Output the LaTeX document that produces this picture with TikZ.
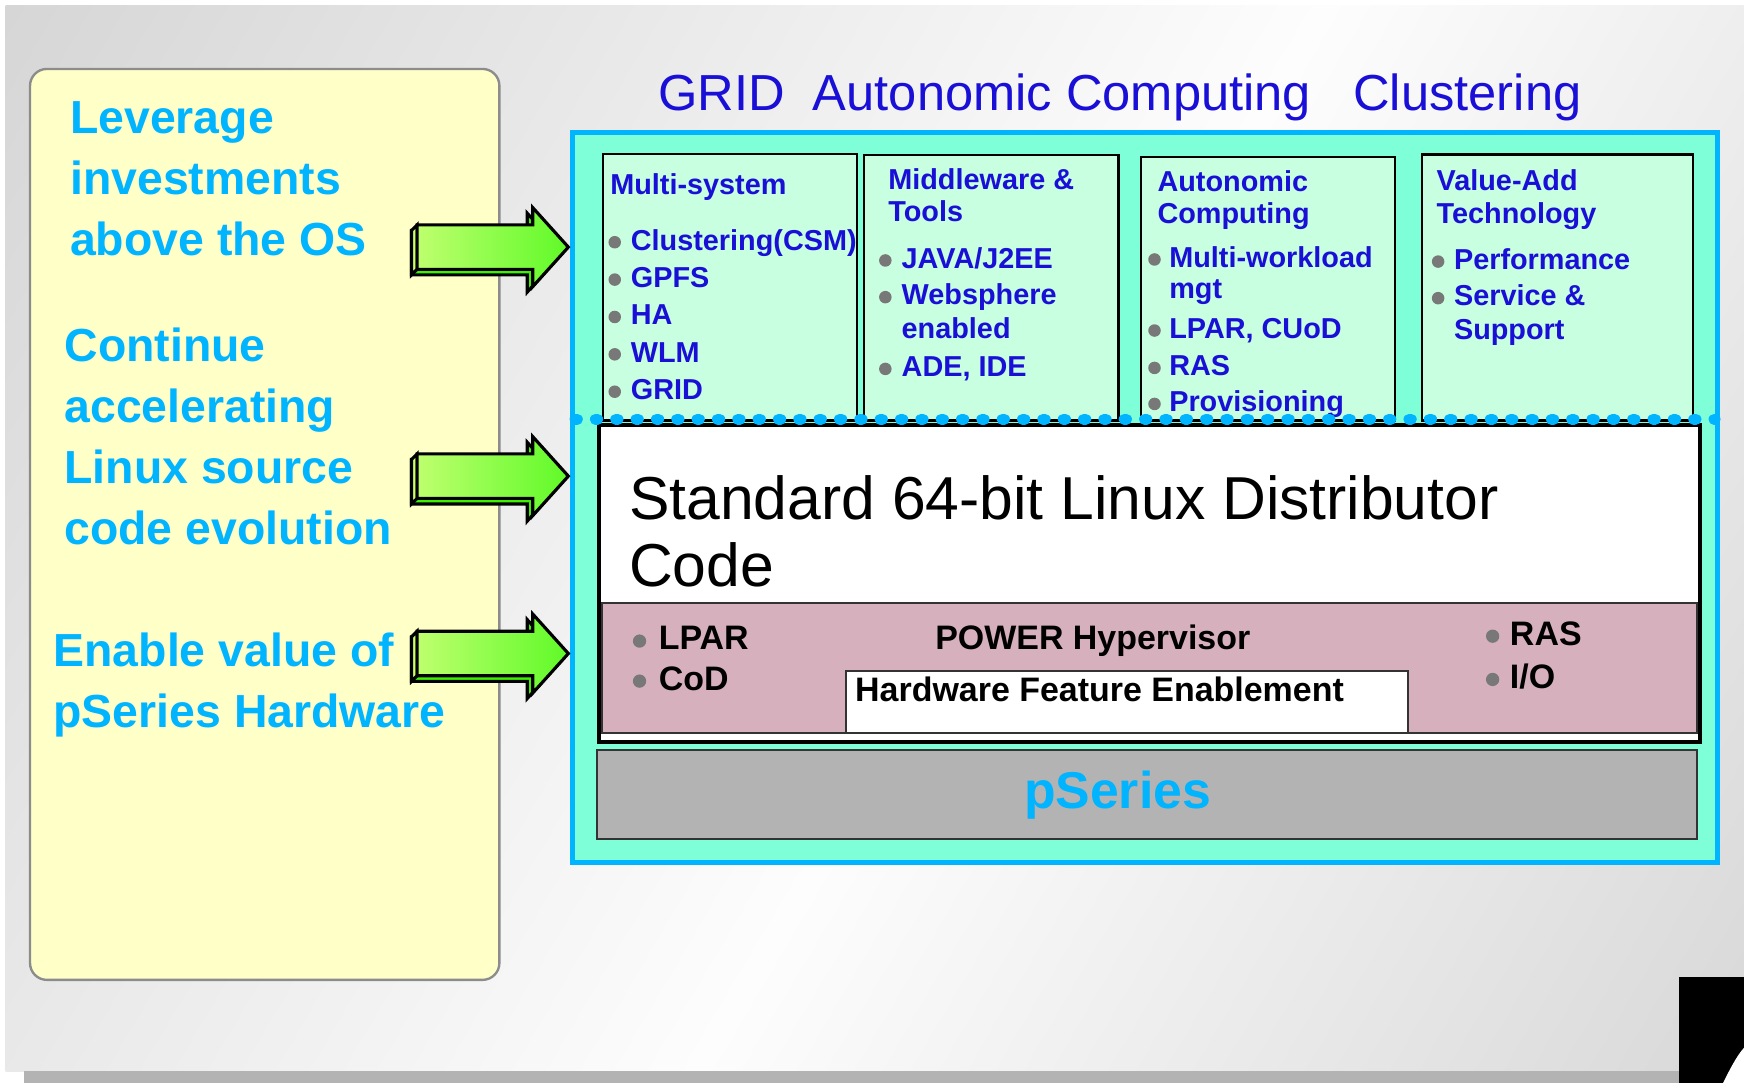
\documentclass[tikz,border=0pt]{standalone}
\usepackage{fontspec}
\setmainfont{Liberation Sans}
\usepackage{tikz}
\definecolor{slideblue}{RGB}{0,180,255}
\definecolor{itemblue}{RGB}{25,15,215}
\definecolor{aquafill}{RGB}{127,255,216}
\definecolor{mintfill}{RGB}{200,255,224}
\definecolor{notefill}{RGB}{255,255,200}
\definecolor{noteline}{RGB}{140,140,140}
\definecolor{hyperpink}{RGB}{215,176,190}
\definecolor{hwgray}{RGB}{179,179,179}
\definecolor{dotgray}{RGB}{120,120,120}
\definecolor{bgdark}{RGB}{214,214,214}
\definecolor{bglight}{RGB}{253,253,253}
\definecolor{bgdarkb}{RGB}{216,216,216}
\definecolor{arrowlight}{RGB}{190,255,110}
\definecolor{arrowdark}{RGB}{95,250,40}
\definecolor{arrowside}{RGB}{60,240,0}
\definecolor{arrowend}{RGB}{205,255,105}
\pgfdeclarehorizontalshading{slidebg}{100bp}{color(0bp)=(bgdark); color(15.7bp)=(bgdark); color(54bp)=(bglight); color(84.3bp)=(bgdarkb); color(100bp)=(bgdarkb)}
\tikzset{
  blurb/.style={anchor=base west,inner sep=0pt,text=slideblue,font=\fontsize{11.86}{14}\selectfont\bfseries},
  coltext/.style={anchor=base west,inner sep=0pt,text=itemblue,font=\fontsize{7.37}{9}\selectfont\bfseries},
  hwtext/.style={anchor=base west,inner sep=0pt,text=black,font=\fontsize{8.68}{10}\selectfont\bfseries},
  bullet/.style={fill=dotgray},
  colbox/.style={draw=black,fill=mintfill,line width=0.6pt},
  arrowedge/.style={draw=black,line width=0.8pt,line join=miter},
  greenarrow/.pic={
    \draw[arrowedge,fill=arrowside] (-141,-15) -- (-37,-15) -- (-37,-30.5) -- (-5,5) -- (-37,40.5) -- (-37,25) -- (-141,25) -- cycle;
    \draw[arrowedge,fill=arrowend] (-141,-15) -- (-136,-20) -- (-136,20) -- (-141,25) -- cycle;
    \draw[arrowedge,left color=arrowlight,right color=arrowdark] (-136,-20) -- (-32,-20) -- (-32,-35.5) -- (0,0) -- (-32,35.5) -- (-32,20) -- (-136,20) -- cycle;
  }
}

\begin{document}
\begin{tikzpicture}[
  x=0.01cm,y=-0.01cm,
  notebox/.style={draw=noteline,fill=notefill,line width=0.6pt,rounded corners=4.3pt},
  outerbox/.style={draw=slideblue,fill=aquafill,line width=1.3pt},
  linuxbox/.style={draw=black,fill=white,line width=1pt},
  hyperbox/.style={draw=black!80,fill=hyperpink,line width=0.5pt},
  enablebox/.style={draw=black!80,fill=white,line width=0.5pt},
  hwbox/.style={draw=black!80,fill=hwgray,line width=0.6pt},
  dotline/.style={draw=slideblue,line width=2.8pt,line cap=round,dash pattern=on 0.6pt off 4.6pt}
]
  \useasboundingbox (0,0) rectangle (1568,974);

  \shade[shading=slidebg,shading angle=-30.6] (5,5) rectangle (1568,963);
  \fill[hwgray] (22,963) rectangle (1568,974);
  \fill[black] (1510,878) rectangle (1568,974);
  \fill[white] (1549,974) .. controls (1555,962) and (1561,950) .. (1568,942) -- (1568,974) -- cycle;

  \draw[notebox] (27,62) rectangle (449,881);

  \foreach \txt [count=\i] in {Leverage,investments,above the OS}
    \node[blurb] (lev\i) at (62.4,{119.6+54.9*(\i-1)}) {\txt};
  \foreach \txt [count=\i] in {Continue,accelerating,Linux source,code evolution}
    \node[blurb] (con\i) at (57.3,{325.2+54.9*(\i-1)}) {\txt};
  \foreach \txt [count=\i] in {Enable value of,pSeries Hardware}
    \node[blurb] (ena\i) at (47.5,{599+54.9*(\i-1)}) {\txt};

  \node[anchor=base west,inner sep=0pt,text=itemblue,font=\fontsize{12.95}{15}\selectfont] (title) at (591,99)
    {GRID\ \ Autonomic Computing\ \ \ Clustering};

  \draw[outerbox] (514.7,118.8) rectangle (1544,775.5);

  \draw[colbox] (542,138.5) rectangle (770.5,378);
  \draw[colbox] (777,139.5) rectangle (1005.5,378);
  \draw[colbox] (1026,141) rectangle (1254,378);
  \draw[colbox] (1278.5,139) rectangle (1522,378);

  \node[coltext] (ms) at (548,175.3) {Multi-system};
  \foreach \y/\txt [count=\i] in {224.8/Clustering(CSM),258.4/GPFS,292/HA,325.6/WLM,359.2/GRID}{
    \fill[bullet] (552.7,{\y-7}) circle[radius=1.6pt];
    \node[coltext] (ms\i) at (566.5,\y) {\txt};
  }

  \node[coltext] (mwa) at (798,170.8) {Middleware \&};
  \node[coltext] (mwb) at (798,199.3) {Tools};
  \foreach \y/\txt [count=\i] in {241.2/{JAVA/J2EE},274.2/Websphere,338.7/{ADE, IDE}}{
    \fill[bullet] (796,{\y-7}) circle[radius=1.6pt];
    \node[coltext] (mw\i) at (810,\y) {\txt};
  }
  \node[coltext] (mwx) at (810,304.2) {enabled};

  \node[coltext] (aca) at (1040,172.3) {Autonomic};
  \node[coltext] (acb) at (1040,200.8) {Computing};
  \foreach \y/\txt [count=\i] in {240.3/Multi-workload,304.2/{LPAR, CUoD},337.8/RAS,370.2/Provisioning}{
    \fill[bullet] (1038,{\y-7}) circle[radius=1.6pt];
    \node[coltext] (ac\i) at (1050.6,\y) {\txt};
  }
  \node[coltext] (acx) at (1050.6,268.2) {mgt};

  \node[coltext] (vaa) at (1291,171.4) {Value-Add};
  \node[coltext] (vab) at (1291,200.8) {Technology};
  \foreach \y/\txt [count=\i] in {242.2/Performance,275.1/Service \&}{
    \fill[bullet] (1293,{\y-7}) circle[radius=1.6pt];
    \node[coltext] (va\i) at (1306.6,\y) {\txt};
  }
  \node[coltext] (vax) at (1306.6,305) {Support};

  \draw[linuxbox] (538.5,382) rectangle (1528.5,667);
  \draw[dotline] (517,377) -- (1542,377);

  \node[anchor=base west,inner sep=0pt,font=\fontsize{15.5}{18}\selectfont] (std1) at (565,467.5)
    {Standard 64-bit Linux Distributor};
  \node[anchor=base west,inner sep=0pt,font=\fontsize{15.5}{18}\selectfont] (std2) at (565,527.5) {Code};

  \draw[hyperbox] (541,542.5) rectangle (1526,659);
  \draw[enablebox] (761,603.3) rectangle (1265.7,659);

  \node[hwtext] (hyp) at (840.2,584.4) {POWER Hypervisor};
  \node[hwtext] (hfe) at (768.2,630.9) {Hardware Feature Enablement};
  \foreach \y/\txt [count=\i] in {584.4/LPAR,620.4/CoD}{
    \fill[bullet] (575,{\y-8}) circle[radius=1.7pt];
    \node[hwtext] (lp\i) at (591.6,\y) {\txt};
  }
  \foreach \y/\txt [count=\i] in {580/RAS,618.9/{I/O}}{
    \fill[bullet] (1342,{\y-8}) circle[radius=1.7pt];
    \node[hwtext] (ras\i) at (1356.9,\y) {\txt};
  }

  \draw[hwbox] (536.8,674.4) rectangle (1525.6,754.6);
  \node[anchor=base west,inner sep=0pt,text=slideblue,font=\fontsize{13.23}{16}\selectfont\bfseries] (ps) at (920,726.8) {pSeries};

  \foreach \y in {222.2,428.1,587.6}
    \pic at (511,\y) {greenarrow};

\end{tikzpicture}
\end{document}
